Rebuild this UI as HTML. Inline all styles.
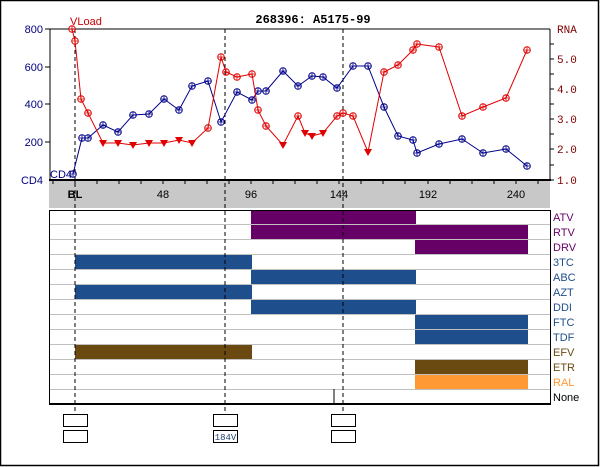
<!DOCTYPE html>
<html><head><meta charset="utf-8"><style>body{margin:0;background:#fff}svg{display:block}</style></head>
<body>
<svg width="600" height="467" xmlns="http://www.w3.org/2000/svg" font-family="Liberation Sans, sans-serif" font-size="11">
<defs>
<g id="m" fill="none"><circle r="3.3"/><path d="M-3.3,0h6.6M0,-3.3v6.6" stroke-width="0.8"/></g>
</defs>
<rect x="0.5" y="0.5" width="598" height="465" fill="#fff" stroke="#000" stroke-width="1.5"/>
<text x="313" y="23" text-anchor="middle" font-family="Liberation Mono, monospace" font-weight="bold" font-size="12">268396: A5175-99</text>
<rect x="49" y="180" width="501" height="28" fill="#c8c8c8"/>
<g stroke="#000" stroke-width="1">
<line x1="53" y1="180" x2="53" y2="184"/><line x1="75" y1="180" x2="75" y2="184"/><line x1="97" y1="180" x2="97" y2="184"/><line x1="119" y1="180" x2="119" y2="184"/><line x1="141" y1="180" x2="141" y2="184"/><line x1="163" y1="180" x2="163" y2="184"/><line x1="185" y1="180" x2="185" y2="184"/><line x1="207" y1="180" x2="207" y2="184"/><line x1="229" y1="180" x2="229" y2="184"/><line x1="251" y1="180" x2="251" y2="184"/><line x1="273" y1="180" x2="273" y2="184"/><line x1="295" y1="180" x2="295" y2="184"/><line x1="317" y1="180" x2="317" y2="184"/><line x1="339" y1="180" x2="339" y2="184"/><line x1="361" y1="180" x2="361" y2="184"/><line x1="383" y1="180" x2="383" y2="184"/><line x1="405" y1="180" x2="405" y2="184"/><line x1="428" y1="180" x2="428" y2="184"/><line x1="450" y1="180" x2="450" y2="184"/><line x1="472" y1="180" x2="472" y2="184"/><line x1="494" y1="180" x2="494" y2="184"/><line x1="516" y1="180" x2="516" y2="184"/><line x1="538" y1="180" x2="538" y2="184"/>
</g>
<text x="75" y="198" text-anchor="middle" font-weight="bold">BL</text>
<text x="163" y="198" text-anchor="middle">48</text>
<text x="251" y="198" text-anchor="middle">96</text>
<text x="339" y="198" text-anchor="middle">144</text>
<text x="428" y="198" text-anchor="middle">192</text>
<text x="516" y="198" text-anchor="middle">240</text>
<line x1="50" y1="29" x2="550" y2="29" stroke="#000"/>
<line x1="50" y1="29" x2="50" y2="181" stroke="#000"/>
<line x1="550" y1="29" x2="550" y2="181" stroke="#000"/>
<line x1="49" y1="180" x2="551" y2="180" stroke="#000" stroke-width="2"/>
<g stroke="#000"><line x1="45" y1="29" x2="50" y2="29"/><line x1="45" y1="67" x2="50" y2="67"/><line x1="45" y1="104" x2="50" y2="104"/><line x1="45" y1="142" x2="50" y2="142"/>
<line x1="550" y1="44" x2="554" y2="44"/><line x1="550" y1="59" x2="554" y2="59"/><line x1="550" y1="74" x2="554" y2="74"/><line x1="550" y1="89" x2="554" y2="89"/><line x1="550" y1="104" x2="554" y2="104"/><line x1="550" y1="119" x2="554" y2="119"/><line x1="550" y1="134" x2="554" y2="134"/><line x1="550" y1="149" x2="554" y2="149"/><line x1="550" y1="165" x2="554" y2="165"/><line x1="550" y1="180" x2="554" y2="180"/></g>
<g fill="#00007f" text-anchor="end"><text x="43" y="33">800</text><text x="43" y="71">600</text><text x="43" y="108">400</text><text x="43" y="146">200</text><text x="43" y="184">CD4</text></g>
<text x="50" y="178" fill="#00007f">CD4</text>
<text x="70" y="25" fill="#cc0000">VLoad</text>
<g fill="#7f0000" font-family="Liberation Mono, monospace"><text x="557" y="33">RNA</text><text x="557" y="63">5.0</text><text x="557" y="93">4.0</text><text x="557" y="123">3.0</text><text x="557" y="153">2.0</text><text x="557" y="184">1.0</text></g>
<g fill="#660066"><rect x="251" y="210" width="165" height="14"/><rect x="251" y="225" width="277" height="14"/><rect x="415" y="240" width="113" height="14"/></g>
<g fill="#1f4e8c"><rect x="75" y="255" width="177" height="14"/><rect x="251" y="270" width="165" height="14"/><rect x="75" y="285" width="177" height="14"/><rect x="251" y="300" width="165" height="14"/><rect x="415" y="315" width="113" height="14"/><rect x="415" y="330" width="113" height="14"/></g>
<rect x="75" y="345" width="177" height="14" fill="#6b4a12"/>
<rect x="415" y="360" width="113" height="14" fill="#6b4a12"/>
<rect x="415" y="375" width="113" height="14" fill="#ff9933"/>
<g stroke="#c0c0c0"><line x1="50" y1="224.5" x2="550" y2="224.5"/><line x1="50" y1="239.5" x2="550" y2="239.5"/><line x1="50" y1="254.5" x2="550" y2="254.5"/><line x1="50" y1="269.5" x2="550" y2="269.5"/><line x1="50" y1="284.5" x2="550" y2="284.5"/><line x1="50" y1="299.5" x2="550" y2="299.5"/><line x1="50" y1="314.5" x2="550" y2="314.5"/><line x1="50" y1="329.5" x2="550" y2="329.5"/><line x1="50" y1="344.5" x2="550" y2="344.5"/><line x1="50" y1="359.5" x2="550" y2="359.5"/><line x1="50" y1="374.5" x2="550" y2="374.5"/><line x1="50" y1="389.5" x2="550" y2="389.5"/></g>
<rect x="49.5" y="210.5" width="501" height="194" fill="none" stroke="#000"/>
<line x1="49" y1="404" x2="551" y2="404" stroke="#000" stroke-width="2"/>
<line x1="334" y1="389" x2="334" y2="404" stroke="#000"/>
<g font-size="11">
<text x="553" y="221" fill="#660066">ATV</text><text x="553" y="236" fill="#660066">RTV</text><text x="553" y="251" fill="#660066">DRV</text>
<text x="553" y="266" fill="#1f4e8c">3TC</text><text x="553" y="281" fill="#1f4e8c">ABC</text><text x="553" y="296" fill="#1f4e8c">AZT</text><text x="553" y="311" fill="#1f4e8c">DDI</text><text x="553" y="326" fill="#1f4e8c">FTC</text><text x="553" y="341" fill="#1f4e8c">TDF</text>
<text x="553" y="356" fill="#6b4a12">EFV</text><text x="553" y="371" fill="#6b4a12">ETR</text><text x="553" y="386" fill="#ff9933">RAL</text></g>
<text x="553" y="401" fill="#000">None</text>
<g stroke="#000" stroke-dasharray="4,3"><line x1="75" y1="29" x2="75" y2="414"/><line x1="225" y1="29" x2="225" y2="414"/><line x1="343" y1="29" x2="343" y2="414"/></g>
<g fill="#fff" stroke="#000"><rect x="63.5" y="414.5" width="24" height="12"/><rect x="63.5" y="430.5" width="24" height="12"/><rect x="213.5" y="414.5" width="24" height="12"/><rect x="213.5" y="430.5" width="24" height="12"/><rect x="331.5" y="414.5" width="24" height="12"/><rect x="331.5" y="430.5" width="24" height="12"/></g>
<text x="225.5" y="440" text-anchor="middle" font-family="Liberation Mono, monospace" font-size="9" fill="#1f3f6f">184V</text>
<polyline fill="none" stroke="#00008b" points="73,174 82,138 88,138 103,125 118,132 133,115 149,114 164,99 179,110 192,86 208,81 221,122 237,92 252,100 258,91 266,91 283,71 298,86 312,76 323,77 337,88 353,66 368,66 384,107 398,136 413,140 417,153 439,144 462,139 483,153 506,149 527,166"/>
<g stroke="#00008b"><use href="#m" x="73" y="174"/><use href="#m" x="82" y="138"/><use href="#m" x="88" y="138"/><use href="#m" x="103" y="125"/><use href="#m" x="118" y="132"/><use href="#m" x="133" y="115"/><use href="#m" x="149" y="114"/><use href="#m" x="164" y="99"/><use href="#m" x="179" y="110"/><use href="#m" x="192" y="86"/><use href="#m" x="208" y="81"/><use href="#m" x="221" y="122"/><use href="#m" x="237" y="92"/><use href="#m" x="252" y="100"/><use href="#m" x="258" y="91"/><use href="#m" x="266" y="91"/><use href="#m" x="283" y="71"/><use href="#m" x="298" y="86"/><use href="#m" x="312" y="76"/><use href="#m" x="323" y="77"/><use href="#m" x="337" y="88"/><use href="#m" x="353" y="66"/><use href="#m" x="368" y="66"/><use href="#m" x="384" y="107"/><use href="#m" x="398" y="136"/><use href="#m" x="413" y="140"/><use href="#m" x="417" y="153"/><use href="#m" x="439" y="144"/><use href="#m" x="462" y="139"/><use href="#m" x="483" y="153"/><use href="#m" x="506" y="149"/><use href="#m" x="527" y="166"/></g>
<polyline fill="none" stroke="#e00000" points="72,29 75,41 81,99 88,113 103,143 118,143 133,145 149,143 164,143 179,140 192,143 208,128 221,57 226,72 237,77 252,74 258,110 266,126 283,145 298,116 305,133 312,136 323,133 337,116 343,113 353,116 368,152 384,72 398,65 413,50 417,44 439,47 462,116 483,107 506,98 527,50"/>
<g stroke="#e00000"><use href="#m" x="72" y="29"/><use href="#m" x="75" y="41"/><use href="#m" x="81" y="99"/><use href="#m" x="88" y="113"/><use href="#m" x="208" y="128"/><use href="#m" x="221" y="57"/><use href="#m" x="226" y="72"/><use href="#m" x="237" y="77"/><use href="#m" x="252" y="74"/><use href="#m" x="258" y="110"/><use href="#m" x="266" y="126"/><use href="#m" x="298" y="116"/><use href="#m" x="337" y="116"/><use href="#m" x="343" y="113"/><use href="#m" x="353" y="116"/><use href="#m" x="384" y="72"/><use href="#m" x="398" y="65"/><use href="#m" x="413" y="50"/><use href="#m" x="417" y="44"/><use href="#m" x="439" y="47"/><use href="#m" x="462" y="116"/><use href="#m" x="483" y="107"/><use href="#m" x="506" y="98"/><use href="#m" x="527" y="50"/></g>
<g fill="#e00000"><path d="M99,140h8l-4,7z"/><path d="M114,140h8l-4,7z"/><path d="M129,142h8l-4,7z"/><path d="M145,140h8l-4,7z"/><path d="M160,140h8l-4,7z"/><path d="M175,137h8l-4,7z"/><path d="M188,140h8l-4,7z"/><path d="M279,142h8l-4,7z"/><path d="M301,130h8l-4,7z"/><path d="M308,133h8l-4,7z"/><path d="M319,130h8l-4,7z"/><path d="M364,149h8l-4,7z"/></g>
</svg>
</body></html>
